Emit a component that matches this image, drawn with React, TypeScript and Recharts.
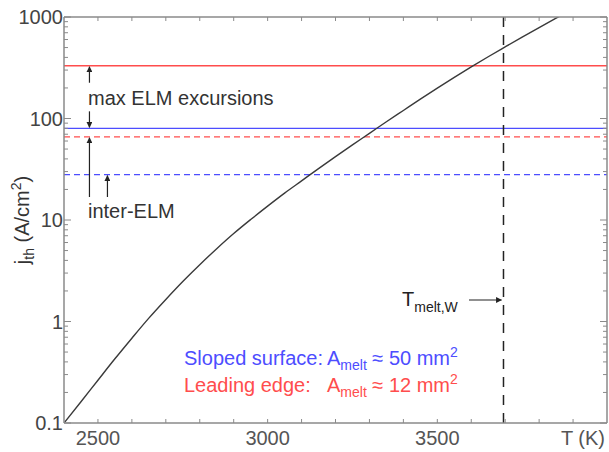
import React from "react";
import { LineChart, Line, XAxis, YAxis, ReferenceLine } from "recharts";

// threshold current density of thermionic emission vs surface temperature
const temperatures = [
  2400, 2450, 2500, 2550, 2600, 2650, 2700, 2750, 2800, 2850, 2900, 2950, 3000, 3050, 3100,
  3150, 3200, 3250, 3300, 3350, 3400, 3450, 3500, 3550, 3600, 3650, 3700, 3750, 3800, 3850, 3900,
];
const thresholdCurrent = [
  0.1, 0.162, 0.264, 0.429, 0.685, 1.08, 1.65, 2.48, 3.63, 5.21, 7.35, 10.1, 13.7, 18.4, 24.3,
  32.1, 42.1, 55.0, 71.4, 92.9, 120, 155, 199, 254, 322, 406, 508, 634, 787, 973, 1197,
];

// [leading edge, sloped surface] current densities in A/cm2
const elmLimits = [331, 80];
const interElmLimits = [66, 28];
const meltTemperature = 3695;

const xTickLabels = [2500, 3000, 3500];
const yTickLabels = [0.1, 1, 10, 100, 1000];

const data = temperatures.map((T, i) => ({ T, j: thresholdCurrent[i] }));

const xTicks: number[] = [];
for (let t = 2400; t <= 4000; t += 100) xTicks.push(t);
const yTicks: number[] = [];
for (let d = 0.1; d < 1000; d *= 10) {
  for (let k = 1; k < 10; k++) yTicks.push(+(d * k).toPrecision(3));
}
yTicks.push(1000);

const W = 609;
const H = 452;
const LEFT = 64;
const RIGHT = 607;
const TOP = 17;
const BOTTOM = 423;

const RED = "#ff4d4d";
const BLUE = "#4d4dff";
const AXIS = "#8a8a8a";
const INK = "#333";
const FONT = "'Liberation Sans', Arial, sans-serif";

// pixel helpers for the annotation layer (same geometry as the plot)
const px = (t: number) => LEFT + ((t - 2400) / 1600) * (RIGHT - LEFT);
const py = (j: number) => TOP + ((3 - Math.log10(j)) / 4) * (BOTTOM - TOP);

const BottomTick = ({ x, y, payload }: any) => {
  const v = payload.value;
  const edge = v === 2400 || v === 4000;
  return (
    <g>
      {!edge && <line x1={x} x2={x} y1={y} y2={y - 4} stroke={AXIS} />}
      {xTickLabels.includes(v) && (
        <text x={x} y={y + 22} textAnchor="middle" fontSize={20} fill="#555" fontFamily={FONT}>
          {v}
        </text>
      )}
    </g>
  );
};

const TopTick = ({ x, y, payload }: any) => {
  const v = payload.value;
  if (v === 2400 || v === 4000) return <g />;
  return <line x1={x} x2={x} y1={y} y2={y + 4} stroke={AXIS} />;
};

const LeftTick = ({ x, y, payload }: any) => {
  const v = payload.value;
  const major = yTickLabels.includes(v);
  return (
    <g>
      <line x1={x} x2={x + (major ? 7 : 4)} y1={y} y2={y} stroke={AXIS} />
      {major && (
        <text x={x - 1} y={y} dy="0.36em" textAnchor="end" fontSize={20} fill="#444" fontFamily={FONT}>
          {v}
        </text>
      )}
    </g>
  );
};

const RightTick = ({ x, y, payload }: any) => {
  const v = payload.value;
  const major = yTickLabels.includes(v);
  return <line x1={x} x2={x - (major ? 7 : 4)} y1={y} y2={y} stroke={AXIS} />;
};

const Arrow = ({ x1, y1, x2, y2 }: { x1: number; y1: number; x2: number; y2: number }) => (
  <line x1={x1} y1={y1} x2={x2} y2={y2} stroke="#222" strokeWidth={1.2} markerEnd="url(#head)" />
);

const Annotations = () => {
  const xa = px(2475);
  return (
    <svg width={W} height={H} style={{ position: "absolute", left: 0, top: 0, pointerEvents: "none" }}>
      <defs>
        <marker id="head" viewBox="0 0 10 10" refX="9" refY="5" markerWidth="5" markerHeight="5" orient="auto">
          <path d="M0,0 L10,5 L0,10 z" fill="#222" />
        </marker>
      </defs>
      <g fontFamily={FONT} fontSize={20}>
        <Arrow x1={xa} y1={py(elmLimits[0]) + 17} x2={xa} y2={py(elmLimits[0]) + 1} />
        <text x={88} y={105} fill={INK}>max ELM excursions</text>
        <Arrow x1={xa} y1={py(elmLimits[1]) - 17} x2={xa} y2={py(elmLimits[1]) - 1} />
        <Arrow x1={xa} y1={197} x2={xa} y2={py(interElmLimits[0]) + 1} />
        <Arrow x1={px(2528)} y1={197} x2={px(2528)} y2={py(interElmLimits[1]) + 1} />
        <text x={88} y={218} fill={INK}>inter-ELM</text>

        <text x={402} y={306} fill="#222">
          T<tspan fontSize={14} dy={6}>melt,W</tspan>
        </text>
        <Arrow x1={469} y1={300} x2={px(meltTemperature) - 2} y2={300} />

        <text x={184} y={365} fill={BLUE}>Sloped surface:</text>
        <text x={327} y={365} fill={BLUE}>
          A<tspan fontSize={14} dy={5}>melt</tspan>
          <tspan dy={-5}> ≈ 50 mm</tspan>
          <tspan fontSize={14} dy={-8}>2</tspan>
        </text>
        <text x={184} y={392} fill={RED}>Leading edge:</text>
        <text x={327} y={392} fill={RED}>
          A<tspan fontSize={14} dy={5}>melt</tspan>
          <tspan dy={-5}> ≈ 12 mm</tspan>
          <tspan fontSize={14} dy={-8}>2</tspan>
        </text>

        <text x={583} y={445} textAnchor="middle" fill="#555">T (K)</text>

        <text transform="translate(29,220) rotate(-90)" textAnchor="middle" fill={INK}>
          j<tspan fontSize={14} dy={5}>th</tspan>
          <tspan dy={-5}> (A/cm</tspan>
          <tspan fontSize={14} dy={-8}>2</tspan>
          <tspan dy={8}>)</tspan>
        </text>
      </g>
    </svg>
  );
};

export default function App() {
  return (
    <div style={{ position: "absolute", left: 0, top: 0, width: W, height: H, background: "#fff" }}>
      <LineChart width={W} height={H} data={data} margin={{ top: 0, right: 0, bottom: 0, left: 0 }}>
        <XAxis
          xAxisId="bottom"
          dataKey="T"
          type="number"
          domain={[2400, 4000]}
          allowDataOverflow
          ticks={xTicks}
          interval={0}
          height={H - BOTTOM}
          tickSize={0}
          tickMargin={0}
          tick={<BottomTick />}
          axisLine={{ stroke: AXIS, strokeWidth: 1.5 }}
        />
        <XAxis
          xAxisId="top"
          orientation="top"
          dataKey="T"
          type="number"
          domain={[2400, 4000]}
          allowDataOverflow
          ticks={xTicks}
          interval={0}
          height={TOP}
          tickSize={0}
          tickMargin={0}
          tick={<TopTick />}
          axisLine={{ stroke: AXIS, strokeWidth: 1.5 }}
        />
        <YAxis
          yAxisId="left"
          scale="log"
          type="number"
          domain={[0.1, 1000]}
          allowDataOverflow
          ticks={yTicks}
          interval={0}
          width={LEFT}
          tickSize={0}
          tickMargin={0}
          tick={<LeftTick />}
          axisLine={{ stroke: AXIS, strokeWidth: 1.5 }}
        />
        <YAxis
          yAxisId="right"
          orientation="right"
          scale="log"
          type="number"
          domain={[0.1, 1000]}
          allowDataOverflow
          ticks={yTicks}
          interval={0}
          width={W - RIGHT}
          tickSize={0}
          tickMargin={0}
          tick={<RightTick />}
          axisLine={{ stroke: AXIS, strokeWidth: 1.5 }}
        />

        <ReferenceLine xAxisId="bottom" yAxisId="left" y={elmLimits[0]} stroke={RED} strokeWidth={1.3} />
        <ReferenceLine xAxisId="bottom" yAxisId="left" y={elmLimits[1]} stroke={BLUE} strokeWidth={1.3} />
        <ReferenceLine xAxisId="bottom" yAxisId="left" y={interElmLimits[0]} stroke={RED} strokeWidth={1.3} strokeDasharray="6 4" />
        <ReferenceLine xAxisId="bottom" yAxisId="left" y={interElmLimits[1]} stroke={BLUE} strokeWidth={1.3} strokeDasharray="6 4" />
        <ReferenceLine xAxisId="bottom" yAxisId="left" x={meltTemperature} stroke="#222" strokeWidth={1.5} strokeDasharray="10 8" />

        <Line
          xAxisId="top"
          yAxisId="right"
          dataKey="j"
          stroke="none"
          dot={false}
          activeDot={false}
          isAnimationActive={false}
        />
        <Line
          xAxisId="bottom"
          yAxisId="left"
          type="monotone"
          dataKey="j"
          stroke="#3a3a3a"
          strokeWidth={1.4}
          dot={false}
          activeDot={false}
          isAnimationActive={false}
        />
      </LineChart>
      <Annotations />
    </div>
  );
}
